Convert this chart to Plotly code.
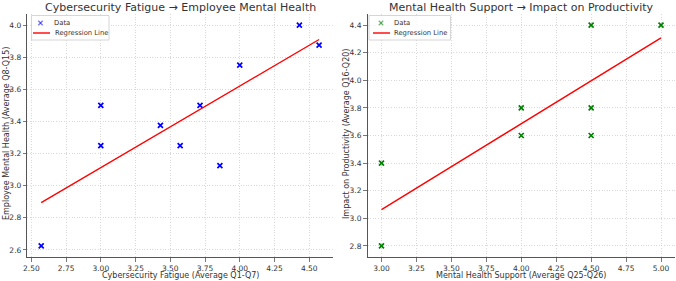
import plotly.graph_objects as go

# Left chart data
fatigue_x = [2.571, 3.0, 3.0, 3.429, 3.571, 3.714, 3.857, 4.0, 4.429, 4.571]
mental_y = [2.625, 3.5, 3.25, 3.375, 3.25, 3.5, 3.125, 3.75, 4.0, 3.875]
reg1_x = [2.571, 4.571]
reg1_y = [2.895, 3.91]

# Right chart data
support_x = [3.0, 3.0, 4.0, 4.0, 4.5, 4.5, 4.5, 5.0]
product_y = [3.4, 2.8, 3.8, 3.6, 4.4, 3.8, 3.6, 4.4]
reg2_x = [3.0, 5.0]
reg2_y = [3.063, 4.307]

titles = ["Cybersecurity Fatigue → Employee Mental Health",
          "Mental Health Support → Impact on Productivity"]
x_titles = ["Cybersecurity Fatigue (Average Q1-Q7)", "Mental Health Support (Average Q25-Q26)"]
y_titles = ["Employee Mental Health (Average Q8-Q15)", "Impact on Productivity (Average Q16-Q20)"]
legend_labels = ["Data", "Regression Line"]

W, H = 676, 281
MT, MB = 14, 24
PT, PB = MT, H - MB  # plot area top/bottom in px
FONT = "DejaVu Sans"
TXT = "#333333"
GRID = "#d0d0d0"
SPINE = "#555555"


def px(x):
    return x / W


def py(y):
    return (PB - y) / (PB - PT)


fig = go.Figure()

mk = lambda c: dict(symbol="x-thin", size=5, line=dict(color=c, width=1.7), color=c)

fig.add_trace(go.Scatter(x=fatigue_x, y=mental_y, mode="markers", name=legend_labels[0],
                         marker=mk("blue"), xaxis="x", yaxis="y"))
fig.add_trace(go.Scatter(x=reg1_x, y=reg1_y, mode="lines", name=legend_labels[1],
                         line=dict(color="red", width=1.4), xaxis="x", yaxis="y"))
fig.add_trace(go.Scatter(x=support_x, y=product_y, mode="markers", name=legend_labels[0],
                         marker=mk("green"), xaxis="x2", yaxis="y2"))
fig.add_trace(go.Scatter(x=reg2_x, y=reg2_y, mode="lines", name=legend_labels[1],
                         line=dict(color="red", width=1.4), xaxis="x2", yaxis="y2"))

L0, L1 = 27.3, 333.0
R0, R1 = 367.5, 675.0


def xax(domain, rng, dtick, tick0, anchor):
    return dict(domain=[px(domain[0]), px(domain[1])], range=rng, anchor=anchor, tick0=tick0,
                dtick=dtick, tickformat=".2f",
                showgrid=True, gridcolor=GRID, griddash="1px,1.6px", gridwidth=0.8,
                showline=True, linecolor=SPINE, linewidth=1, zeroline=False,
                ticks="outside", ticklen=3.5, tickcolor=SPINE, tickwidth=0.8,
                tickfont=dict(family=FONT, size=7.5, color=TXT), automargin=False)


def yax(rng, dtick, tick0, anchor):
    return dict(domain=[0, 1], range=rng, anchor=anchor, tick0=tick0, dtick=dtick, tickformat=".1f",
                showgrid=True, gridcolor=GRID, griddash="1px,1.6px", gridwidth=0.8,
                showline=True, linecolor=SPINE, linewidth=1, zeroline=False,
                ticks="outside", ticklen=3.5, tickcolor=SPINE, tickwidth=0.8,
                tickfont=dict(family=FONT, size=7.5, color=TXT), automargin=False)


annotations = []
shapes = []

for i, (a0, a1, ytx) in enumerate([(L0, L1, 6.0), (R0, R1, 346.0)]):
    cx = px((a0 + a1) / 2)
    annotations.append(dict(text=titles[i], x=cx, y=py(7), xref="paper", yref="paper",
                            showarrow=False, xanchor="center", yanchor="middle",
                            font=dict(family=FONT, size=11, color=TXT)))
    annotations.append(dict(text=x_titles[i], x=cx, y=py(275.5), xref="paper", yref="paper",
                            showarrow=False, xanchor="center", yanchor="middle",
                            font=dict(family=FONT, size=8, color=TXT)))
    annotations.append(dict(text=y_titles[i], x=px(ytx), y=py(134), xref="paper", yref="paper",
                            showarrow=False, xanchor="center", yanchor="middle", textangle=-90,
                            font=dict(family=FONT, size=8, color=TXT)))

# Manual legends (box, marker sample, line sample, labels)
legend_boxes = [dict(x0=31.5, x1=109, mx=40.5, lx0=33, lx1=50, tx=52.5, col="rgba(0,0,255,0.55)"),
                dict(x0=369, x1=450.5, mx=381, lx0=373, lx1=390, tx=392, col="rgba(0,128,0,0.55)")]
for lb in legend_boxes:
    shapes.append(dict(type="rect", xref="paper", yref="paper",
                       x0=px(lb["x0"]), x1=px(lb["x1"]), y0=py(40), y1=py(15.5),
                       line=dict(color="#cccccc", width=0.8), fillcolor="rgba(255,255,255,0.8)"))
    m, yc, s = lb["mx"], 23.0, 2.2
    for (ax_, ay_, bx_, by_) in [(m - s, yc - s, m + s, yc + s), (m - s, yc + s, m + s, yc - s)]:
        shapes.append(dict(type="line", xref="paper", yref="paper",
                           x0=px(ax_), y0=py(ay_), x1=px(bx_), y1=py(by_),
                           line=dict(color=lb["col"], width=1.3)))
    shapes.append(dict(type="line", xref="paper", yref="paper",
                       x0=px(lb["lx0"]), x1=px(lb["lx1"]), y0=py(33), y1=py(33),
                       line=dict(color="red", width=1.4)))
    for lab, yy in zip(legend_labels, [23, 33]):
        annotations.append(dict(text=lab, x=px(lb["tx"]), y=py(yy), xref="paper", yref="paper",
                                showarrow=False, xanchor="left", yanchor="middle",
                                font=dict(family=FONT, size=6.8, color=TXT)))

fig.update_layout(
    width=W, height=H,
    margin=dict(l=0, r=0, t=MT, b=MB),
    paper_bgcolor="white", plot_bgcolor="white",
    showlegend=False,
    xaxis=xax([L0, L1], [2.471, 4.671], 0.25, 2.5, "y"),
    yaxis=yax([2.55625, 4.06875], 0.2, 2.6, "x"),
    xaxis2=xax([R0, R1], [2.9, 5.1], 0.25, 3.0, "y2"),
    yaxis2=yax([2.72, 4.48], 0.2, 2.8, "x2"),
    annotations=annotations,
    shapes=shapes,
    hovermode=False,
)

fig.write_html("out.html",
               config=dict(displayModeBar=False, responsive=False, staticPlot=True),
               post_script="document.body.style.margin='0';document.body.style.overflow='hidden';")
